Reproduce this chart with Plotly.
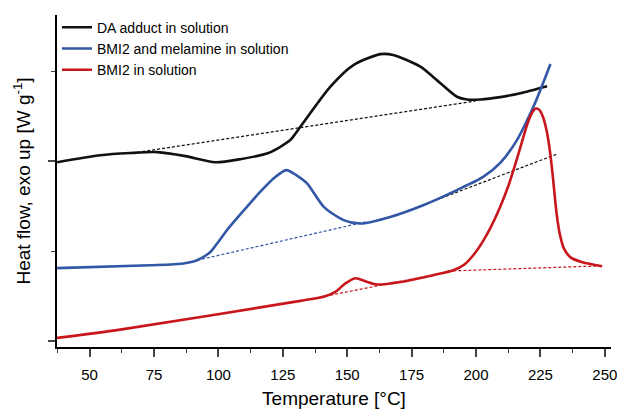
import plotly.graph_objects as go

# DSC traces: temperature (°C) vs heat flow (arbitrary offset units, exo up)
T_da = [37.4, 54.2, 65.8, 76.3, 87.2, 98.8, 108.5, 119.4, 127.9, 131.8, 143.4,
        152.4, 162.9, 167.9, 178.4, 186.1, 192.6, 196.5, 201.7, 209.4, 217.2, 227.6]
hf_da = [0.994, 1.033, 1.045, 1.050, 1.028, 0.994, 1.011, 1.045, 1.117, 1.191, 1.413,
         1.534, 1.595, 1.590, 1.525, 1.434, 1.358, 1.343, 1.343, 1.356, 1.378, 1.417]

T_mel = [37.4, 73.6, 86.4, 91.7, 96.9, 99.5, 103.3, 111.1, 116.3, 121.4, 126.4, 130.2,
         134.4, 140.9, 148.6, 155.1, 166.7, 179.5, 192.6, 202.8, 209.4, 215.9, 221.7,
         225.0, 228.9]
hf_mel = [0.405, 0.421, 0.431, 0.449, 0.495, 0.542, 0.616, 0.746, 0.830, 0.904, 0.950, 0.922,
          0.876, 0.746, 0.672, 0.653, 0.690, 0.755, 0.839, 0.912, 0.990, 1.117, 1.284,
          1.396, 1.540]

T_bmi = [37.3, 61.9, 131.8, 141.5, 145.4, 149.3, 153.1, 157.5, 161.6, 170.6, 183.4, 191.2,
         195.5, 199.0, 202.5, 206.0, 209.4, 212.5, 215.3, 217.9, 219.9, 221.6, 223.2,
         224.6, 226.0, 227.4, 228.6, 229.6, 230.5, 231.4, 232.6, 234.1, 236.7, 241.3, 249.0]
hf_bmi = [0.017, 0.063, 0.223, 0.249, 0.273, 0.320, 0.349, 0.330, 0.314, 0.328, 0.366, 0.393,
          0.425, 0.478, 0.550, 0.640, 0.746, 0.860, 0.985, 1.110, 1.205, 1.265, 1.292,
          1.285, 1.245, 1.170, 1.065, 0.945, 0.815, 0.695, 0.590, 0.515, 0.465, 0.438, 0.416]

# Integration baselines (start/end points)
T_base_da, hf_base_da = [66.6, 199.7], [1.045, 1.334]
T_base_mel1, hf_base_mel1 = [91.7, 158.0], [0.449, 0.665]
T_base_mel2, hf_base_mel2 = [172.0, 231.4], [0.715, 1.039]
T_base_bmi1, hf_base_bmi1 = [141.5, 191.2], [0.249, 0.390]
T_base_bmi2, hf_base_bmi2 = [191.2, 249.0], [0.390, 0.418]

BLACK = "#111111"
BLUE = "#3157a6"
RED = "#c8161d"
FONT = "Arial, Liberation Sans, sans-serif"

fig = go.Figure()

def baseline(x, y, color):
    fig.add_trace(go.Scatter(x=x, y=y, mode="lines", showlegend=False,
                             line=dict(color=color, width=1.2, dash="3px,2px")))

baseline(T_base_da, hf_base_da, BLACK)
baseline(T_base_mel1, hf_base_mel1, BLUE)
baseline(T_base_mel2, hf_base_mel2, BLACK)
baseline(T_base_bmi1, hf_base_bmi1, RED)
baseline(T_base_bmi2, hf_base_bmi2, RED)

for x, y, c, name in [(T_da, hf_da, BLACK, "DA adduct in solution"),
                      (T_mel, hf_mel, BLUE, "BMI2 and melamine in solution"),
                      (T_bmi, hf_bmi, RED, "BMI2 in solution")]:
    fig.add_trace(go.Scatter(x=x, y=y, mode="lines", name=name,
                             line=dict(color=c, width=2.6, shape="spline", smoothing=0.7)))

fig.update_layout(
    width=617, height=409,
    margin=dict(l=57, r=6, t=15, b=62),
    paper_bgcolor="white", plot_bgcolor="white",
    font=dict(family=FONT, size=14, color="black"),
    legend=dict(x=0, y=1.01, xanchor="left", yanchor="top", bgcolor="rgba(0,0,0,0)",
                font=dict(size=14), tracegroupgap=0, itemwidth=30),
    xaxis=dict(range=[37.35, 252.4], tick0=50, dtick=25, ticks="outside", ticklen=8,
               tickwidth=1.5, showline=True, linewidth=1.8, linecolor="black",
               showgrid=False, zeroline=False, tickfont=dict(size=15), automargin=False,
               ticklabelstandoff=5, ticklabeloverflow="allow",
               minor=dict(dtick=12.5, tick0=50, ticks="outside", ticklen=4, tickwidth=1.3,
                          showgrid=False),
               title=dict(text="Temperature [°C]", font=dict(size=19), standoff=10)),
    yaxis=dict(range=[-0.0334, 1.8125], tick0=0, dtick=1, ticks="outside", ticklen=7,
               tickwidth=1.5, showticklabels=False, showline=True, linewidth=1.8,
               linecolor="black", showgrid=False, zeroline=False, automargin=False,
               minor=dict(dtick=0.5, tick0=0, ticks="outside", ticklen=4, tickwidth=1.3,
                          showgrid=False),
               title=dict(text="Heat flow, exo up [W g<sup>-1</sup>]", font=dict(size=19),
                          standoff=12)),
)

fig.write_html("out.html")
